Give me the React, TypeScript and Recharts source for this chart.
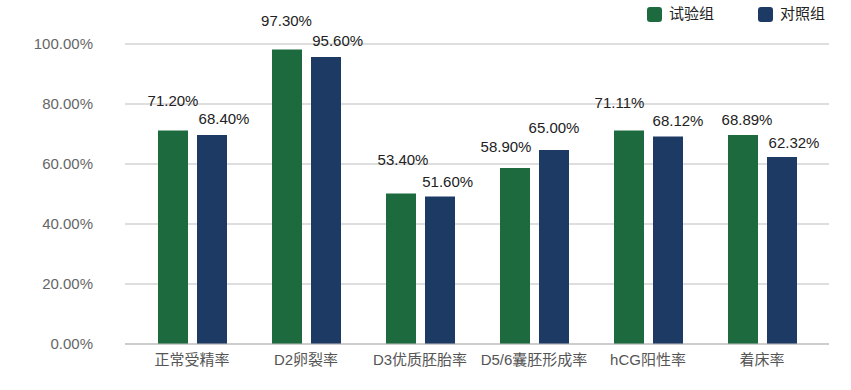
import React from "react";
import { BarChart, Bar, XAxis, YAxis, CartesianGrid } from "recharts";

const categories = ["正常受精率", "D2卵裂率", "D3优质胚胎率", "D5/6囊胚形成率", "hCG阳性率", "着床率"];
// bar heights as drawn in the reference (percent)
const trialValues = [71.2, 98.2, 50.2, 58.7, 71.2, 69.7];
const controlValues = [69.7, 95.7, 49.2, 64.7, 69.2, 62.3];
// label texts as printed in the reference
const trialLabels = ["71.20%", "97.30%", "53.40%", "58.90%", "71.11%", "68.89%"];
const controlLabels = ["68.40%", "95.60%", "51.60%", "65.00%", "68.12%", "62.32%"];
const yTicks = [0, 20, 40, 60, 80, 100];
const seriesNames = ["试验组", "对照组"];

// label nudges relative to bar top-center: [dx, distance above top]
const trialLabelNudge = [[0, 30], [-0.5, 29], [2, 34], [-9, 21], [-9.5, 28], [4, 15]];
const controlLabelNudge = [[12, 16], [11.7, 16], [7.7, 14.5], [0, 22], [10, 16], [12, 15]];

const GREEN = "#1d6a3f";
const BLUE = "#1c3a63";
const FONT = "'Liberation Sans', Arial, 'Noto Sans CJK SC', sans-serif";

const data = categories.map((c, i) => ({
  name: c,
  trial: trialValues[i],
  control: controlValues[i],
}));

const makeLabel = (labels: string[], nudges: number[][]) => (props: any) => {
  const { x, y, width, index } = props;
  const [dx, up] = nudges[index];
  return (
    <text
      x={Number(x) + Number(width) / 2 + dx}
      y={Number(y) - up}
      textAnchor="middle"
      dominantBaseline="central"
      fill="#222"
      fontSize={15}
      fontFamily={FONT}
    >
      {labels[index]}
    </text>
  );
};

export default function App() {
  return (
    <div style={{ position: "absolute", left: 0, top: 0, width: 851, height: 390, background: "#fff" }}>
      <BarChart
        width={851}
        height={390}
        data={data}
        margin={{ top: 44, right: 22, bottom: 16, left: 0 }}
        barSize={30}
        barGap={9}
      >
        <CartesianGrid vertical={false} stroke="#bdbdbd" />
        <XAxis
          dataKey="name"
          height={30}
          padding={{ left: 10, right: 10 }}
          axisLine={{ stroke: "#bdbdbd" }}
          tickLine={false}
          tickSize={0}
          tickMargin={10}
          interval={0}
          tick={{ fill: "#555", fontSize: 15, fontFamily: FONT }}
        />
        <YAxis
          width={125}
          domain={[0, 100]}
          ticks={yTicks}
          axisLine={false}
          tickLine={false}
          tickSize={0}
          tickMargin={32}
          tickFormatter={(v: number) => v.toFixed(2) + "%"}
          tick={{ fill: "#666", fontSize: 15, fontFamily: FONT }}
        />
        <Bar dataKey="trial" fill={GREEN} isAnimationActive={false} label={makeLabel(trialLabels, trialLabelNudge)} />
        <Bar dataKey="control" fill={BLUE} isAnimationActive={false} label={makeLabel(controlLabels, controlLabelNudge)} />
      </BarChart>
      <div
        style={{
          position: "absolute",
          top: 6,
          left: 647,
          display: "flex",
          alignItems: "center",
          fontFamily: FONT,
          fontSize: 15,
          lineHeight: "16px",
          color: "#222",
        }}
      >
        {[GREEN, BLUE].map((col, i) => (
          <div key={i} style={{ display: "flex", alignItems: "center", marginRight: i === 0 ? 44 : 0 }}>
            <span style={{ display: "inline-block", width: 15, height: 15, borderRadius: 3, background: col, marginRight: 7 }} />
            <span>{seriesNames[i]}</span>
          </div>
        ))}
      </div>
    </div>
  );
}
